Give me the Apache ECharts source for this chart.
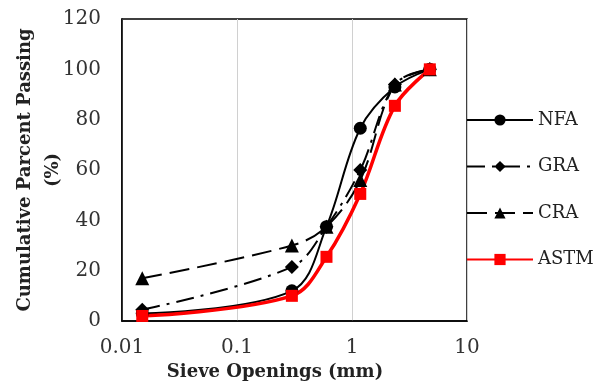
<!DOCTYPE html>
<html lang="en">
<head>
    <meta charset="UTF-8">
    <title>Sieve analysis</title>
    <script src="https://cdn.jsdelivr.net/npm/echarts@6/dist/echarts.min.js"></script>
</head>
<body style="margin:0">
<div id="main" style="width: 597px;height:381px;"></div>
<script type="text/javascript">
    // sieve sizes (mm) and cumulative passing (%)
    var sieves = [0.015, 0.3, 0.6, 1.18, 2.36, 4.75];
    var nfa = [3, 12, 37.5, 76.6, 93, 100];
    var gra = [4.5, 21.5, 37.5, 60, 94, 100];
    var cra = [17, 30, 37.5, 56, 94, 100];
    var astm = [2, 10, 25.5, 50.5, 85.5, 100];
    var xTicks = ['0.01', '0.1', '1', '10'];

    var font = 'DejaVu Serif';

    function pairs(vals) {
        var out = [];
        for (var i = 0; i < sieves.length; i++) {
            out.push([sieves[i], vals[i]]);
        }
        return out;
    }

    var myChart = echarts.init(document.getElementById('main'));

    var option = {
        animation: false,
        grid: {
            left: 122, right: 130, top: 19, bottom: 60,
            outerBoundsMode: 'none', containLabel: false,
            show: true, borderColor: '#000', borderWidth: 1.5
        },
        legend: {
            orient: 'vertical',
            left: 466, top: 111,
            padding: 0,
            itemWidth: 66, itemHeight: 14, itemGap: 28.5,
            textStyle: { fontFamily: font, fontSize: 18, color: '#222' },
            data: ['NFA', 'GRA', 'CRA', 'ASTM']
        },
        xAxis: {
            type: 'log', logBase: 10, min: 0.01, max: 10,
            name: 'Sieve Openings (mm)',
            nameLocation: 'middle', nameGap: 42,
            nameTextStyle: { fontFamily: font, fontSize: 18, fontWeight: 'bold', color: '#222', padding: [0, 39, 0, 0] },
            axisLine: { lineStyle: { color: '#000', width: 1.5 } },
            axisTick: { show: false },
            axisLabel: {
                fontFamily: font, fontSize: 20, color: '#333', margin: 17,
                formatter: function (v) {
                    var e = Math.round(Math.log10(v)) + 2;
                    return xTicks[e] !== undefined ? xTicks[e] : '';
                }
            },
            splitLine: { show: true, lineStyle: { color: '#d0d0d0', width: 1 } }
        },
        yAxis: {
            type: 'value', min: 0, max: 120, interval: 20,
            name: 'Cumulative Parcent Passing\n(%)',
            nameLocation: 'middle', nameGap: 55, nameRotate: 90, nameMoveOverlap: false,
            nameTextStyle: { fontFamily: font, fontSize: 18, fontWeight: 'bold', color: '#222', lineHeight: 28 },
            axisLine: { show: true, lineStyle: { color: '#000', width: 1.5 } },
            axisTick: { show: false },
            axisLabel: { fontFamily: font, fontSize: 20, color: '#333', margin: 21 },
            splitLine: { show: false }
        },
        series: [
            {
                name: 'NFA', type: 'line', smooth: 0.35,
                data: pairs(nfa),
                symbol: 'circle', symbolSize: 13,
                itemStyle: { color: '#000' },
                lineStyle: { color: '#000', width: 2 }
            },
            {
                name: 'GRA', type: 'line', smooth: 0.35,
                data: pairs(gra),
                symbol: 'diamond', symbolSize: 14,
                itemStyle: { color: '#000' },
                lineStyle: { color: '#000', width: 2, type: [18, 7, 3, 7] }
            },
            {
                name: 'CRA', type: 'line', smooth: 0.35,
                data: pairs(cra),
                symbol: 'triangle', symbolSize: 14,
                itemStyle: { color: '#000' },
                lineStyle: { color: '#000', width: 2, type: [20, 8] }
            },
            {
                name: 'ASTM', type: 'line', smooth: 0.35,
                data: pairs(astm),
                symbol: 'rect', symbolSize: 12,
                itemStyle: { color: '#ff0000' },
                lineStyle: { color: '#ff0000', width: 3.5 }
            }
        ]
    };

    myChart.setOption(option);
</script>
</body>
</html>
